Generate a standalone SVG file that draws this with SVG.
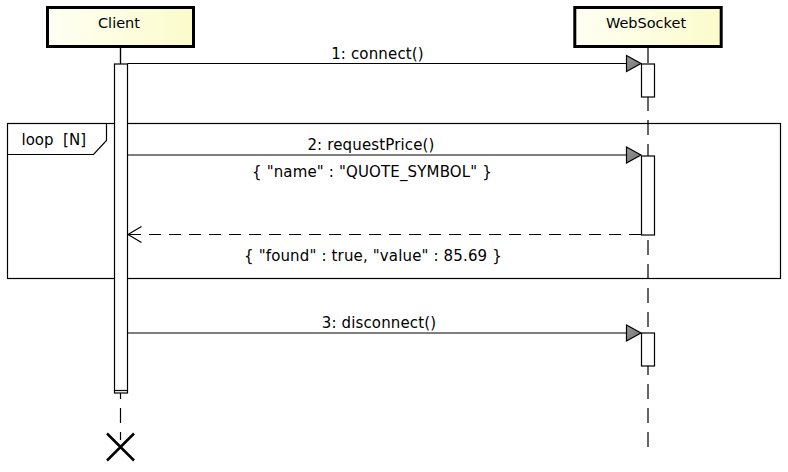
<svg xmlns="http://www.w3.org/2000/svg" width="788" height="472" viewBox="0 0 788 472">
<style>
  text { font-family: "DejaVu Sans", "Liberation Sans", sans-serif; fill: #000; }
  .lbl { font-size: 15px; text-anchor: middle; letter-spacing: 0.15px; }
  .head { font-size: 14.5px; text-anchor: middle; }
  .box { stroke: #000; stroke-width: 3; fill: url(#yellow); }
  .life { stroke: #000; stroke-width: 1.2; fill: none; stroke-dasharray: 15 9; }
  .act { stroke: #000; stroke-width: 1.2; fill: #fff; }
  .msg { stroke: #000; stroke-width: 1.2; fill: none; }
  .ret { stroke: #000; stroke-width: 1.2; fill: none; stroke-dasharray: 12 8; }
  .tri { stroke: #000; stroke-width: 1.2; fill: url(#grey); }
  .frame { stroke: #000; stroke-width: 1.2; fill: none; }
</style>
<defs>
  <linearGradient id="yellow" x1="0" y1="0" x2="1" y2="0">
    <stop offset="0" stop-color="#fffff4"/>
    <stop offset="1" stop-color="#fbfbcc"/>
  </linearGradient>
  <linearGradient id="grey" x1="0" y1="0" x2="1" y2="1">
    <stop offset="0" stop-color="#9a9a9a"/>
    <stop offset="1" stop-color="#6e6e6e"/>
  </linearGradient>
</defs>
<rect width="788" height="472" fill="#fff"/>

<g id="loop-frame">
  <rect class="frame" x="7.5" y="123.5" width="773" height="155"/>
  <path class="frame" d="M7.5 154.5 H93.5 L106.5 140.5 V123.5" fill="#fff"/>
  <text x="21.5" y="145" style="font-size:15px; white-space:pre">loop  [N]</text>
</g>

<g id="client">
  <line x1="120.5" y1="48" x2="120.5" y2="64" stroke="#000" stroke-width="1.2"/>
  <line class="life" x1="120.5" y1="48" x2="120.5" y2="440"/>
  <rect class="box" x="47.5" y="7.5" width="146" height="39"/>
  <text class="head" x="119" y="28">Client</text>
  <rect class="act" x="114.5" y="64" width="13" height="329"/>
  <line x1="114.5" y1="390.5" x2="127.5" y2="390.5" stroke="#000" stroke-width="1.2"/>
  <path d="M107 433.5 L134 460.5 M134 433.5 L107 460.5" stroke="#000" stroke-width="2.5" fill="none"/>
</g>

<g id="websocket">
  <line class="life" x1="648" y1="48" x2="648" y2="447"/>
  <rect class="box" x="574.8" y="7.5" width="146.4" height="39"/>
  <text class="head" x="646" y="28">WebSocket</text>
  <rect class="act" x="641.5" y="64" width="13" height="33"/>
  <rect class="act" x="641.5" y="156" width="13" height="79"/>
  <rect class="act" x="641.5" y="333" width="13" height="33"/>
</g>

<g id="connectors">
  <line class="msg" x1="127.5" y1="63.5" x2="627" y2="63.5"/>
  <path class="tri" d="M626.5 55.5 L641 63.5 L626.5 71.5 Z"/>
  <text class="lbl" x="377.5" y="59">1: connect()</text>

  <line class="msg" x1="127.5" y1="155" x2="627" y2="155"/>
  <path class="tri" d="M626.5 147 L641 155 L626.5 163 Z"/>
  <text class="lbl" x="371" y="150">2: requestPrice()</text>
  <text class="lbl" x="372" y="177">{ "name" : "QUOTE_SYMBOL" }</text>

  <line class="ret" x1="641" y1="234.5" x2="128" y2="234.5"/>
  <path class="msg" d="M141.5 226.5 L128 234.5 L141.5 242.5"/>
  <text class="lbl" x="373" y="261">{ "found" : true, "value" : 85.69 }</text>

  <line class="msg" x1="127.5" y1="333" x2="627" y2="333"/>
  <path class="tri" d="M626.5 325 L641 333 L626.5 341 Z"/>
  <text class="lbl" x="379" y="328">3: disconnect()</text>
</g>
</svg>
